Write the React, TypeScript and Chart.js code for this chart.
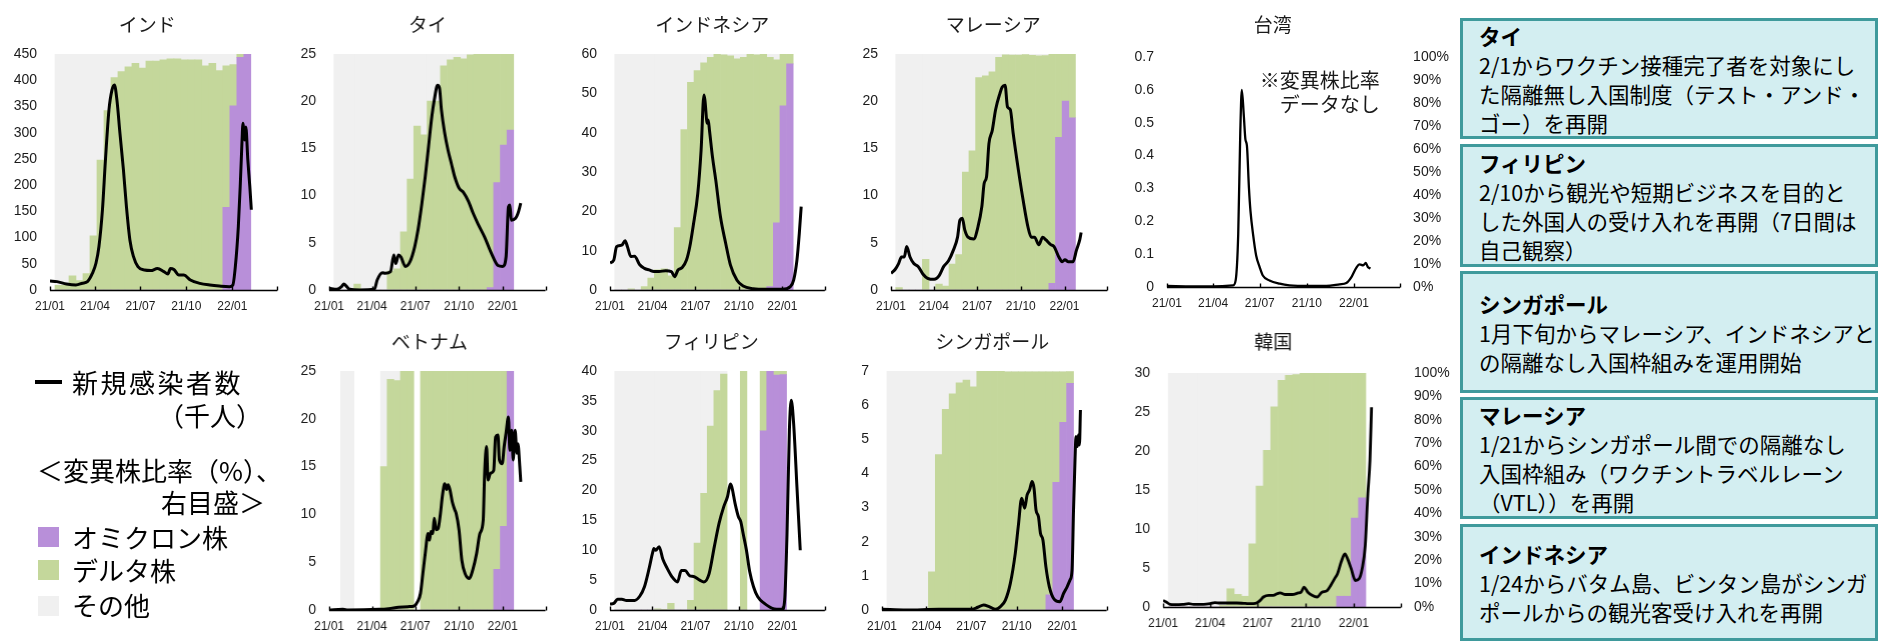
import React, { useEffect, useRef } from 'react';
import { Chart, registerables } from 'chart.js';
Chart.register(...registerables);

const CJK = '"Noto Sans CJK JP", "Noto Sans", sans-serif';
const LAT = '"Liberation Sans", Arial, sans-serif';
const COLOR_OMICRON = '#b88fd9';
const COLOR_DELTA = '#c4d79b';
const COLOR_OTHER = '#f0f0f0';
const TEXT = '#1a1a1a';

// ---------- axis ticks ----------
const xTickDates = ['2021-01-01', '2021-04-01', '2021-07-01', '2021-10-01', '2022-01-01', '2022-04-01'];
const xTickLabels = ['21/01', '21/04', '21/07', '21/10', '22/01', ''];
const xRange = ['2021-01-01', '2022-04-01'];

// start dates of the 2-week variant sampling windows
const barPeriodStarts = [
  '2021-01-11', '2021-01-25', '2021-02-08', '2021-02-22', '2021-03-08', '2021-03-22', '2021-04-05',
  '2021-04-19', '2021-05-03', '2021-05-17', '2021-05-31', '2021-06-14', '2021-06-28', '2021-07-12',
  '2021-07-26', '2021-08-09', '2021-08-23', '2021-09-06', '2021-09-20', '2021-10-04', '2021-10-18',
  '2021-11-01', '2021-11-15', '2021-11-29', '2021-12-13', '2021-12-27', '2022-01-10', '2022-01-24',
];

// ---------- new cases (thousand), [days since 2021-01-01, value] ----------
const indiaCases: [number, number][] = [[0,17],[14,16],[33,11.5],[52,9.5],[65,13],[75,16],[85,32],[92,51],[98,83],[105,153],[111,248],[118,343],[124,381],[129,391],[134,362],[140,299],[147,229],[153,159],[160,95],[167,64],[176,44.5],[189,38],[202,37],[215,41],[228,35],[236,30.5],[241,41],[248,39],[258,28.6],[268,28.6],[281,19],[300,12.7],[320,9.5],[339,7.6],[359,6.4],[366,9.5],[371,44.5],[377,121],[381,203],[385,299],[386,318],[390,286],[392,311],[396,248],[400,197],[403,153]];
const thaiCases: [number, number][] = [[0,0.18],[16,0.07],[26,0.35],[31,0.64],[36,0.42],[43,0.07],[64,0],[95,0.07],[101,1.06],[112,1.84],[118,1.77],[129,1.94],[136,3.7],[140,2.8],[146,3.7],[151,3.5],[160,2.5],[170,3.0],[180,4.6],[187,6.4],[195,9.2],[202,12],[209,15.2],[216,18.4],[221,20.1],[228,21.7],[232,21.4],[236,19.1],[243,16.6],[250,14.8],[257,13.4],[264,12.0],[273,10.8],[283,10.3],[293,9.4],[303,8.1],[314,6.9],[327,5.6],[341,3.9],[355,2.6],[365,2.5],[372,3.5],[377,8.8],[380,9.0],[383,7.4],[392,7.6],[397,8.1],[403,9.2]];
const indonesiaCases: [number, number][] = [[0,6.9],[8,7.6],[14,11],[25,11.4],[32,12.5],[37,11],[44,8.5],[52,8.6],[63,6.4],[73,5.5],[83,5.1],[93,4.7],[104,4.7],[118,4.9],[130,4.7],[137,3.4],[144,5.1],[153,5.7],[162,7.6],[169,11],[176,16.1],[186,24.6],[193,35.6],[199,49.6],[201,48.3],[206,42.4],[208,43.2],[211,40.3],[217,33.9],[224,28],[234,18.6],[245,11.9],[255,6.4],[269,2.5],[282,1.0],[303,0.34],[331,0.17],[365,0.17],[382,0.85],[389,2.5],[396,7.6],[401,14.4],[405,21.2]];
const malaysiaCases: [number, number][] = [[0,1.77],[9,2.2],[16,2.8],[22,3.5],[28,3.5],[33,4.6],[40,3.5],[48,2.8],[57,2.5],[67,1.7],[77,1.24],[91,1.13],[101,1.5],[111,2.5],[121,3.1],[131,4.2],[140,5.6],[145,7.4],[150,7.6],[155,6.4],[162,5.6],[174,5.4],[183,6.7],[191,8.8],[196,11.3],[201,12],[206,15.5],[213,16.9],[220,19.1],[229,20.8],[234,21.5],[240,21.7],[245,19.4],[251,19.1],[257,16.6],[268,12.7],[278,9.5],[288,6.7],[295,5.6],[302,5.6],[311,4.8],[319,5.6],[326,5.3],[336,4.8],[343,4.6],[353,3.5],[360,3.0],[366,3.2],[373,3.0],[383,3.0],[390,4.2],[397,5.3],[400,6.1]];
const taiwanCases: [number, number][] = [[0,0.003],[51,0.002],[90,0.002],[129,0.005],[134,0.02],[139,0.16],[143,0.467],[146,0.6],[150,0.52],[153,0.45],[156,0.43],[160,0.30],[163,0.23],[168,0.16],[174,0.096],[181,0.06],[187,0.035],[200,0.02],[220,0.01],[239,0.005],[278,0.003],[311,0.003],[337,0.008],[350,0.012],[360,0.03],[370,0.06],[376,0.069],[383,0.066],[388,0.073],[392,0.061],[397,0.056]];
const vietnamCases: [number, number][] = [[0,0],[29,0.07],[40,0],[105,0.07],[125,0.14],[146,0.28],[166,0.35],[179,0.42],[186,0.87],[192,1.74],[197,3.8],[202,5.9],[208,8.0],[211,7.3],[214,8.2],[218,8.0],[221,9.6],[225,8.4],[229,8.5],[234,10.1],[238,11.9],[243,13.2],[247,12.6],[250,13.1],[254,12.6],[259,11.3],[264,10.5],[267,10.1],[273,8.4],[279,5.2],[286,3.8],[295,3.3],[302,4.2],[310,5.9],[317,8.0],[324,9.4],[327,14.3],[331,17.1],[334,13.6],[339,14.3],[346,14.6],[350,18.1],[355,18.3],[358,15.7],[364,15.3],[368,17.1],[372,18.5],[377,20.2],[380,16.7],[384,18.8],[387,15.7],[391,18.8],[395,16.4],[397,17.4],[401,15.0],[403,13.4]];
const philippinesCases: [number, number][] = [[0,1.0],[8,1.1],[16,1.8],[25,1.8],[35,1.6],[52,1.6],[63,2.3],[73,3.9],[83,7.0],[90,9.5],[93,10.3],[97,10.0],[104,10.6],[112,8.5],[121,7.0],[131,5.6],[143,4.7],[151,6.6],[159,6.6],[169,5.7],[177,5.6],[190,5.0],[199,4.7],[210,6.1],[221,10.6],[231,14.5],[241,17.3],[249,19.0],[255,21.1],[258,20.6],[265,17.8],[272,15.6],[277,14.8],[282,12.8],[289,10.0],[296,6.4],[304,3.9],[313,2.2],[327,1.1],[344,0.28],[365,0.11],[370,1.7],[375,12.8],[380,30.1],[384,35.1],[389,31.2],[396,20.6],[403,10.0]];
const singaporeCases: [number, number][] = [[0,0.02],[49,0],[115,0.02],[181,0.02],[194,0.08],[206,0.15],[217,0.1],[230,0.02],[240,0.1],[250,0.29],[260,0.78],[270,1.66],[276,2.44],[283,3.27],[289,2.98],[294,3.37],[299,3.52],[304,3.76],[308,3.56],[312,2.93],[317,2.73],[321,2.25],[326,2.05],[332,1.27],[339,0.68],[349,0.31],[360,0.24],[368,0.49],[375,0.68],[381,0.88],[385,1.17],[388,2.93],[391,4.39],[393,5.08],[396,4.79],[398,5.13],[400,4.83],[402,5.86]];
const koreaCases: [number, number][] = [[0,0.85],[6,0.64],[13,0.34],[22,0.3],[38,0.34],[49,0.43],[58,0.34],[77,0.34],[90,0.43],[99,0.56],[109,0.51],[122,0.51],[141,0.51],[154,0.47],[163,0.43],[173,0.43],[179,0.51],[186,0.85],[192,1.28],[202,1.5],[211,1.5],[218,1.7],[224,1.8],[234,1.6],[247,1.6],[259,1.8],[264,1.9],[270,2.56],[277,1.9],[285,1.5],[295,1.28],[304,1.9],[314,2.1],[321,2.8],[328,3.6],[334,4.3],[341,5.8],[348,6.8],[353,6.2],[360,4.9],[368,3.4],[375,3.6],[381,4.9],[387,7.9],[392,14.5],[396,18.8],[399,25.6]];

// ---------- variant shares (%), one entry per 2-week window; null = no data ----------
const indiaOmicron = [0,0,0,0,0,0,0,0,0,0,0,0,0,0,0,0,0,0,0,0,0,0,0,0,35,78,98.6,100];
const indiaDelta = [2,2,6,4,7,23,55,76,90,92.5,94.6,96,94,97,97,97.5,98,98,97.5,97.5,97.5,95,96,93,60,17.5,1.4,0];
const thaiOmicron = [0,0,0,0,0,0,0,0,0,0,0,0,0,0,0,0,0,0,0,0,0,0,0,1,45.5,61.4,67.8,null];
const thaiDelta = [0,0,0,2.5,0,0,0,0,8,9,24.7,47,69.5,65.7,80,80,95,97.5,98.6,98,99.6,100,100,99,54.5,38.6,32.2,null];
const indonesiaOmicron = [0,0,0,0,0,0,0,0,0,0,0,0,0,0,0,0,0,0,0,0,0,0,0,1.4,28.5,78,95.8,null];
const indonesiaDelta = [0,0,0.5,0,1.5,5,8.5,9,6,26.4,68,88,93,96.3,98.6,100,99.6,99.2,98,98.6,100,99.6,100,97.2,69,22,4.2,null];
const malaysiaOmicron = [0,0,0,0,0,0,0,0,0,0,0,0,0,0,0,0,0,0,0,0,0,0,0,2.8,64.7,80,73,null];
const malaysiaDelta = [1,0,0,0,13,0,2.5,1.7,11,15,50,59,90,90.7,92.4,98.6,99.6,99.5,99.5,99.8,99.4,99.2,99.3,97.2,35.3,20,27,null];
const vietnamOmicron = [null,0,0,null,null,null,null,0,0,0,0,0,null,0,0,0,0,0,0,0,0,0,0,0,17,35,100,null];
const vietnamDelta = [null,0,0,null,null,null,null,60,96.5,96,100,100,null,100,100,100,100,100,100,100,100,100,100,100,83,65,0,null];
const philippinesOmicron = [0,0,0,0,0,0,0,0,0,0,0,0,0,0,0,0,0,null,null,0,null,null,75,100,98.3,98.5,null,null];
const philippinesDelta = [0,0,0,0,0,0,0.5,0.3,2.8,0,0,4,28,48.8,77,91.8,98.7,null,null,100,null,null,25,0,1.7,1.5,null,null];
const singaporeOmicron = [0,0,0,0,0,0,0,0,0,0,0,0,0,0,0,0,0,0,0,0,0,0,0,6.3,53.4,78.5,94.8,null];
const singaporeDelta = [0,0,0,0,0,0,16,65,84,90.4,95,96.2,93.4,100,100,100,100,99.7,99.7,99.7,99.7,99.7,99.7,93.4,46.3,21.2,5,null];
const koreaOmicron = [0,0,0,0,0,0,0,0,0,0,0,0,0,0,0,0,0,0,0,0,0,0,0,4.6,4.6,38,46.7,null];
const koreaDelta = [0,0,0,0,0,0,0,0.7,7.8,5.4,4.6,27,51.7,67,85.5,96.9,99,99.3,100,100,100,100,100,95.4,95.4,62,53.3,null];

const DAY0 = Date.UTC(2021, 0, 1);
function dayOf(s: string) {
  const [y, m, d] = s.split('-').map(Number);
  return Math.round((Date.UTC(y, m - 1, d) - DAY0) / 86400000);
}

type PanelDef = {
  title: string; titleX: number; titleY: number;
  x0: number; x1: number; top: number; bottom: number; rowTop: number;
  yMax: number; yStep: number; yDec: number; pct: boolean; lw: number;
  cases: [number, number][]; omicron?: (number | null)[]; delta?: (number | null)[];
  note?: string[]; noteX?: number; noteY?: number;
};

const PANELS: PanelDef[] = [
  { title: 'インド', titleX: 147, titleY: 25, x0: 49.7, x1: 283, top: 54, bottom: 290, rowTop: 0, yMax: 450, yStep: 50, yDec: 0, pct: false, lw: 3, cases: indiaCases, omicron: indiaOmicron, delta: indiaDelta },
  { title: 'タイ', titleX: 427, titleY: 25, x0: 329, x1: 550.5, top: 54, bottom: 290, rowTop: 0, yMax: 25, yStep: 5, yDec: 0, pct: false, lw: 3, cases: thaiCases, omicron: thaiOmicron, delta: thaiDelta },
  { title: 'インドネシア', titleX: 712, titleY: 25, x0: 609.7, x1: 830.5, top: 54, bottom: 290, rowTop: 0, yMax: 60, yStep: 10, yDec: 0, pct: false, lw: 3, cases: indonesiaCases, omicron: indonesiaOmicron, delta: indonesiaDelta },
  { title: 'マレーシア', titleX: 993, titleY: 25, x0: 890.7, x1: 1113, top: 54, bottom: 290, rowTop: 0, yMax: 25, yStep: 5, yDec: 0, pct: false, lw: 3, cases: malaysiaCases, omicron: malaysiaOmicron, delta: malaysiaDelta },
  { title: '台湾', titleX: 1273, titleY: 25, x0: 1167.3, x1: 1400.4, top: 57, bottom: 287, rowTop: 0, yMax: 0.7, yStep: 0.1, yDec: 1, pct: true, lw: 2.3, cases: taiwanCases, note: ['※変異株比率', 'データなし'], noteX: 1380, noteY: 80 },
  { title: 'ベトナム', titleX: 429, titleY: 342, x0: 329, x1: 550.5, top: 371, bottom: 610, rowTop: 320, yMax: 25, yStep: 5, yDec: 0, pct: false, lw: 3, cases: vietnamCases, omicron: vietnamOmicron, delta: vietnamDelta },
  { title: 'フィリピン', titleX: 711, titleY: 342, x0: 609.7, x1: 830.5, top: 371, bottom: 610, rowTop: 320, yMax: 40, yStep: 5, yDec: 0, pct: false, lw: 3, cases: philippinesCases, omicron: philippinesOmicron, delta: philippinesDelta },
  { title: 'シンガポール', titleX: 992, titleY: 342, x0: 881.7, x1: 1112.3, top: 371, bottom: 610, rowTop: 320, yMax: 7, yStep: 1, yDec: 0, pct: false, lw: 3, cases: singaporeCases, omicron: singaporeOmicron, delta: singaporeDelta },
  { title: '韓国', titleX: 1273, titleY: 342, x0: 1163.3, x1: 1400.2, top: 373, bottom: 607, rowTop: 320, yMax: 30, yStep: 5, yDec: 0, pct: true, lw: 2.8, cases: koreaCases, omicron: koreaOmicron, delta: koreaDelta },
];

const decorPlugin = {
  id: 'decor',
  afterDraw(chart: any, _a: any, opts: any) {
    const { ctx, chartArea } = chart;
    const xs = chart.scales.x;
    ctx.save();
    ctx.strokeStyle = '#000';
    ctx.lineWidth = 1.4;
    ctx.beginPath();
    const yb = chartArea.bottom + 0.5;
    ctx.moveTo(chartArea.left, yb);
    ctx.lineTo(chartArea.right, yb);
    for (const d of xTickDates) {
      const px = Math.round(xs.getPixelForValue(dayOf(d))) + 0.5;
      ctx.moveTo(px, yb);
      ctx.lineTo(px, yb - 4);
    }
    ctx.stroke();
    ctx.fillStyle = TEXT;
    ctx.textAlign = 'center';
    ctx.textBaseline = 'middle';
    ctx.font = `19px ${CJK}`;
    ctx.fillText(opts.title, opts.tx, opts.ty);
    if (opts.note) {
      ctx.textAlign = 'right';
      ctx.font = `20px ${CJK}`;
      opts.note.forEach((t: string, i: number) => ctx.fillText(t, opts.nx, opts.ny + i * 24));
    }
    ctx.restore();
  },
};

function Panel({ p }: { p: PanelDef }) {
  const ref = useRef<HTMLCanvasElement>(null);
  const padL = 48, padR = p.pct ? 56 : 6, padB = 34;
  const left = p.x0 - padL;
  const width = p.x1 - p.x0 + padL + padR;
  const top = p.rowTop;
  const height = p.bottom + padB - p.rowTop;

  useEffect(() => {
    const centers = barPeriodStarts.map((s) => dayOf(s) + 7);
    const datasets: any[] = [
      {
        type: 'line', data: p.cases.map(([x, y]) => ({ x, y })), borderColor: '#000', borderWidth: p.lw,
        pointRadius: 0, cubicInterpolationMode: 'monotone', fill: false, yAxisID: 'y', order: 0,
      },
    ];
    if (p.omicron && p.delta) {
      const om = p.omicron, de = p.delta;
      const other = de.map((d, i) => (d == null ? null : Math.max(0, 100 - d - (om[i] ?? 0))));
      const mk = (arr: (number | null)[]) => centers.map((x, i) => ({ x, y: arr[i] ?? null }));
      const common = { type: 'bar', yAxisID: 'y1', stack: 'v', order: 1, barPercentage: 1, categoryPercentage: 1, borderWidth: 0 };
      datasets.push({ ...common, label: 'オミクロン株', data: mk(om), backgroundColor: COLOR_OMICRON });
      datasets.push({ ...common, label: 'デルタ株', data: mk(de), backgroundColor: COLOR_DELTA });
      datasets.push({ ...common, label: 'その他', data: mk(other), backgroundColor: COLOR_OTHER });
    }
    const nSteps = Math.round(p.yMax / p.yStep);
    const chart = new Chart(ref.current as HTMLCanvasElement, {
      type: 'bar',
      data: { datasets },
      options: {
        responsive: true,
        maintainAspectRatio: false,
        animation: false,
        layout: { padding: { top: p.top - p.rowTop, left: 0, right: p.pct ? 0 : padR, bottom: 0 } },
        plugins: {
          legend: { display: false },
          tooltip: { enabled: false },
          decor: {
            title: p.title, tx: p.titleX - left, ty: p.titleY - top,
            note: p.note, nx: (p.noteX ?? 0) - left, ny: (p.noteY ?? 0) - top,
          },
        } as any,
        scales: {
          x: {
            type: 'linear', min: dayOf(xRange[0]), max: dayOf(xRange[1]), offset: false,
            grid: { display: false, drawTicks: false, offset: false }, border: { display: false },
            afterBuildTicks: (s: any) => { s.ticks = xTickDates.map((d) => ({ value: dayOf(d) })); },
            ticks: {
              autoSkip: false, maxRotation: 0, minRotation: 0, padding: 9, color: TEXT,
              font: { family: LAT, size: 12 },
              callback: (_v: any, i: number) => xTickLabels[i],
            },
            afterFit: (s: any) => { s.height = padB; },
          },
          y: {
            type: 'linear', position: 'left', min: 0, max: p.yMax,
            grid: { display: false, drawTicks: false }, border: { display: false },
            afterBuildTicks: (s: any) => {
              const t = [];
              for (let i = 0; i <= nSteps; i++) t.push({ value: +(i * p.yStep).toFixed(3) });
              s.ticks = t;
            },
            ticks: {
              padding: 13, color: TEXT, font: { family: LAT, size: 14 },
              callback: (v: any) => (v === 0 ? '0' : p.yDec ? Number(v).toFixed(p.yDec) : String(v)),
            },
            afterFit: (s: any) => { s.width = padL; },
          },
          y1: {
            type: 'linear', position: 'right', min: 0, max: 100, stacked: true, display: p.pct,
            grid: { display: false, drawTicks: false }, border: { display: false },
            afterBuildTicks: (s: any) => {
              const t = [];
              for (let i = 0; i <= 10; i++) t.push({ value: i * 10 });
              s.ticks = t;
            },
            ticks: { padding: 13, color: TEXT, font: { family: LAT, size: 14 }, callback: (v: any) => `${v}%` },
            afterFit: (s: any) => { s.width = padR; },
          },
        } as any,
      },
      plugins: [decorPlugin as any],
    } as any);
    return () => chart.destroy();
  }, []);

  return (
    <div style={{ position: 'absolute', left, top, width, height }}>
      <canvas ref={ref} />
    </div>
  );
}

const BOXES = [
  { top: 18, height: 121, head: 'タイ', lines: ['2/1からワクチン接種完了者を対象にし', 'た隔離無し入国制度（テスト・アンド・', 'ゴー）を再開'] },
  { top: 144, height: 123, head: 'フィリピン', lines: ['2/10から観光や短期ビジネスを目的と', 'した外国人の受け入れを再開（7日間は', '自己観察）'] },
  { top: 271, height: 122, head: 'シンガポール', lines: ['1月下旬からマレーシア、インドネシアと', 'の隔離なし入国枠組みを運用開始'] },
  { top: 397, height: 122, head: 'マレーシア', lines: ['1/21からシンガポール間での隔離なし', '入国枠組み（ワクチントラベルレーン', '（VTL））を再開'] },
  { top: 524, height: 117, head: 'インドネシア', lines: ['1/24からバタム島、ビンタン島がシンガ', 'ポールからの観光客受け入れを再開'] },
];

function Txt({ x, cy, children, size = 26, align = 'left', w, ls = 0 }: any) {
  const lh = size + 6;
  const style: any = {
    position: 'absolute', top: cy - lh / 2, height: lh, lineHeight: `${lh}px`, fontSize: size,
    whiteSpace: 'nowrap', color: '#000', letterSpacing: ls,
  };
  if (align === 'right') { style.left = x - w; style.width = w; style.textAlign = 'right'; }
  else style.left = x;
  return <div style={style}>{children}</div>;
}

export default function App() {
  return (
    <div style={{ position: 'absolute', left: 0, top: 0, width: 1887, height: 644, background: '#fff', overflow: 'hidden', fontFamily: CJK }}>
      {PANELS.map((p, i) => <Panel key={i} p={p} />)}

      {/* legend */}
      <div style={{ position: 'absolute', left: 35, top: 380, width: 27, height: 3.5, background: '#000' }} />
      <Txt x={72} cy={382} ls={2.5}>新規感染者数</Txt>
      <Txt x={262} cy={415} align="right" w={200}>（千人）</Txt>
      <Txt x={37} cy={470}>＜変異株比率（%）、</Txt>
      <Txt x={265} cy={502} align="right" w={200}>右目盛＞</Txt>
      <div style={{ position: 'absolute', left: 38, top: 527, width: 21, height: 20, background: COLOR_OMICRON }} />
      <div style={{ position: 'absolute', left: 38, top: 560, width: 21, height: 20, background: COLOR_DELTA }} />
      <div style={{ position: 'absolute', left: 38, top: 596, width: 21, height: 20, background: COLOR_OTHER }} />
      <Txt x={72} cy={537}>オミクロン株</Txt>
      <Txt x={72} cy={570}>デルタ株</Txt>
      <Txt x={72} cy={605}>その他</Txt>

      {/* text boxes */}
      {BOXES.map((b, i) => (
        <div key={i} style={{
          position: 'absolute', left: 1460, top: b.top, width: 418, height: b.height, boxSizing: 'border-box',
          border: '3px solid #3f9a9c', background: '#d3eef1', display: 'flex', flexDirection: 'column',
          justifyContent: 'center', paddingLeft: 16, fontSize: 21.5, lineHeight: '29px', color: '#000',
        }}>
          <div style={{ fontWeight: 700, whiteSpace: 'nowrap' }}>{b.head}</div>
          {b.lines.map((l, j) => <div key={j} style={{ whiteSpace: 'nowrap' }}>{l}</div>)}
        </div>
      ))}
    </div>
  );
}
